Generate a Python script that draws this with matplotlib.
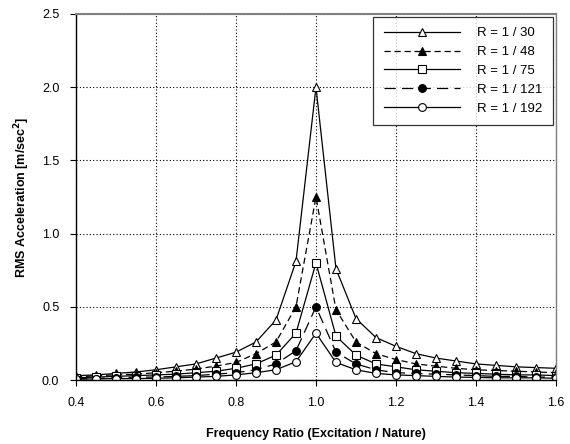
import numpy as np
import matplotlib.pyplot as plt

plt.rcParams['font.family'] = ['Liberation Sans', 'DejaVu Sans']

freq_ratio = [0.40, 0.45, 0.50, 0.55, 0.60, 0.65, 0.70, 0.75, 0.80, 0.85, 0.90, 0.95, 1.00,
              1.05, 1.10, 1.15, 1.20, 1.25, 1.30, 1.35, 1.40, 1.45, 1.50, 1.55, 1.60]

r_30 = [0.030, 0.035, 0.045, 0.055, 0.070, 0.090, 0.110, 0.150, 0.190, 0.260, 0.410, 0.810, 2.000,
        0.760, 0.420, 0.290, 0.230, 0.180, 0.150, 0.130, 0.110, 0.100, 0.090, 0.085, 0.080]
r_48 = [0.020, 0.030, 0.035, 0.040, 0.050, 0.060, 0.075, 0.095, 0.120, 0.180, 0.260, 0.500, 1.250,
        0.480, 0.260, 0.180, 0.140, 0.110, 0.095, 0.080, 0.070, 0.065, 0.060, 0.055, 0.050]
r_75 = [0.015, 0.020, 0.025, 0.030, 0.035, 0.040, 0.050, 0.060, 0.080, 0.110, 0.170, 0.320, 0.800,
        0.300, 0.170, 0.110, 0.090, 0.070, 0.060, 0.050, 0.045, 0.040, 0.035, 0.035, 0.030]
r_121 = [0.010, 0.010, 0.015, 0.020, 0.020, 0.025, 0.030, 0.040, 0.050, 0.070, 0.110, 0.200, 0.500,
         0.190, 0.110, 0.070, 0.050, 0.045, 0.040, 0.035, 0.030, 0.025, 0.025, 0.020, 0.020]
r_192 = [0.005, 0.008, 0.010, 0.010, 0.012, 0.015, 0.020, 0.025, 0.035, 0.050, 0.070, 0.125, 0.320,
         0.120, 0.070, 0.045, 0.035, 0.030, 0.025, 0.020, 0.018, 0.015, 0.015, 0.015, 0.012]

series = [
    ("R = 1 / 30", r_30, '-', '^', 'white'),
    ("R = 1 / 48", r_48, (0, (5, 3)), '^', 'black'),
    ("R = 1 / 75", r_75, '-', 's', 'white'),
    ("R = 1 / 121", r_121, (0, (9, 5)), 'o', 'black'),
    ("R = 1 / 192", r_192, '-', 'o', 'white'),
]

fig = plt.figure(figsize=(5.7, 4.44), dpi=100)
ax = fig.add_axes([0.1333, 0.1441, 0.8421, 0.8244])

for label, vals, ls, mk, fc in series:
    ax.plot(freq_ratio, vals, color='black', linestyle=ls, linewidth=0.9,
            marker=mk, markersize=5.6, markerfacecolor=fc, markeredgecolor='black',
            markeredgewidth=0.8, label=label)

ax.set_xlim(0.4, 1.6)
ax.set_ylim(0, 2.5)
ax.set_xticks(np.arange(0.4, 1.61, 0.2))
ax.set_yticks(np.arange(0, 2.51, 0.5))
ax.set_xticklabels(['%.1f' % v for v in np.arange(0.4, 1.61, 0.2)])
ax.set_yticklabels(['%.1f' % v for v in np.arange(0, 2.51, 0.5)])
ax.tick_params(labelsize=9, direction='out', length=4, width=0.8, pad=8)
ax.grid(True, color='black', linestyle=(0, (1, 2)), linewidth=0.8)

ax.spines['left'].set_color('black')
ax.spines['bottom'].set_color('black')
ax.spines['top'].set_color('#808080')
ax.spines['right'].set_color('#808080')
for s in ax.spines.values():
    s.set_linewidth(1.0)
ax.spines['top'].set_linewidth(1.5)

ax.set_xlabel('Frequency Ratio (Excitation / Nature)', fontsize=9, fontweight='bold', labelpad=14)
ax.set_ylabel('RMS Acceleration [m/sec$^\\mathbf{2}$]', fontsize=9, fontweight='bold', labelpad=7)

leg = ax.legend(loc='upper right', fontsize=9.5, frameon=True, fancybox=False,
                edgecolor='black', handlelength=5.8, handletextpad=1.3,
                borderaxespad=0.2, labelspacing=0.5, borderpad=0.8)
leg.get_frame().set_linewidth(0.9)

fig.savefig('out.png', dpi=100)
